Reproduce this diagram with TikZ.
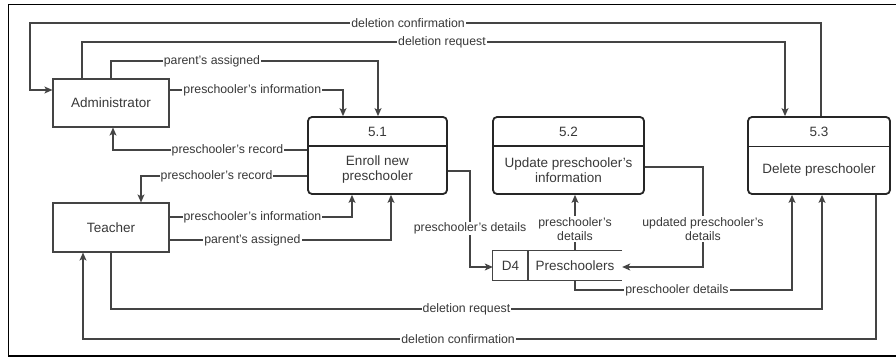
\documentclass[tikz,border=0pt]{standalone}
\usepackage{fontspec}
\setmainfont{Liberation Sans}
\usetikzlibrary{arrows.meta}
\definecolor{txt}{HTML}{383838}
\definecolor{ln}{HTML}{444444}
\tikzset{
  entity/.style={draw=ln, line width=1.2pt, minimum width=116pt, minimum height=48pt, inner sep=0pt, text=txt, font=\fontsize{13.5}{15}\selectfont},
  proc/.style={draw=black!85, line width=1.8pt, rounded corners=4pt, minimum width=#1, minimum height=77pt, inner sep=0pt},
  ptext/.style={text=txt, font=\fontsize{13.5}{15}\selectfont, align=center, inner sep=0pt},
  flow/.style={draw=ln, line width=1.1pt, -{Stealth[length=8pt,width=7pt,inset=2pt]}},
  lbl/.style={fill=white, text=txt, font=\fontsize{12.3}{14}\selectfont, inner sep=1pt, align=center}
}
\begin{document}
\begin{tikzpicture}[x=1pt,y=-1pt]
\useasboundingbox (0,0) rectangle (896,358);
% outer frame
\draw[black, line width=1.5pt] (896,4.5) -- (8.5,4.5) -- (8.5,356) -- (896,356);

% external entities
\node[entity] (admin) at (111,103) {Administrator};
\node[entity, minimum height=49pt] (teacher) at (111,227.5) {Teacher};

% processes
\node[proc=139pt] (p1) at (377.5,155.5) {};
\node[proc=151pt] (p2) at (568.5,155.5) {};
\node[proc=142pt] (p3) at (819,155.5) {};
\draw[black!85, line width=1.5pt] (p1.west |- 0,146) -- (p1.east |- 0,146);
\draw[black!85, line width=1.5pt] (p2.west |- 0,146) -- (p2.east |- 0,146);
\draw[black!85, line width=1.5pt] (p3.west |- 0,146.5) -- (p3.east |- 0,146.5);
\node[ptext] (n1) at (377.5,132) {5.1};
\node[ptext] (t1) at (377.5,170) {Enroll new\\preschooler};
\node[ptext] (n2) at (568.5,132) {5.2};
\node[ptext] (t2) at (568.5,170) {Update preschooler's\\information};
\node[ptext] (n3) at (819,132) {5.3};
\node[ptext] (t3) at (819,170) {Delete preschooler};

% data store
\node[minimum width=129pt, minimum height=29pt, inner sep=0pt] (d4) at (557.5,265.5) {};
\draw[ln, line width=1.2pt] (d4.north east) -- (d4.north west) -- (d4.south west) -- (d4.south east);
\draw[ln, line width=1.2pt] (528,251) -- (528,280);
\node[ptext] (d4id) at (510.5,266) {D4};
\node[ptext] (d4name) at (575,266) {Preschoolers};

% flows
\draw[flow] ([xshift=2pt]p3.north) -- (821,23) -- node[lbl,pos=0.522]{deletion confirmation} (30,23) -- (30,90) -- ([yshift=13pt]admin.west);
\draw[flow] ([xshift=-29pt]admin.north) -- (82,42) -- node[lbl,pos=0.512]{deletion request} (785,42) -- ([xshift=-34pt]p3.north);
\draw[flow] (admin.north) -- (111,61) -- node[lbl,pos=0.378]{parent's assigned} (378,61) -- ([xshift=0.5pt]p1.north);
\draw[flow] ([yshift=13pt]admin.east) -- node[lbl,pos=0.477]{preschooler's information} (343,90) -- ([xshift=-34.5pt]p1.north);
\draw[flow] ([yshift=5.5pt]p1.west) -- node[lbl,pos=0.41]{preschooler's record} (113,150) -- ([xshift=2pt]admin.south);
\draw[flow] ([yshift=-20.5pt]p1.west) -- node[lbl,pos=0.545]{preschooler's record} (141,176) -- ([xshift=30pt]teacher.north);
\draw[flow] ([yshift=10.5pt]teacher.east) -- node[lbl,pos=0.454]{preschooler's information} (352,217) -- ([xshift=-25.5pt]p1.south);
\draw[flow] ([yshift=-12.5pt]teacher.east) -- node[lbl,pos=0.374]{parent's assigned} (391,240) -- ([xshift=13.5pt]p1.south);
\draw[flow] ([yshift=-15.5pt]p1.east) -- (470,171) -- node[lbl,pos=0.6]{preschooler's details} (470,267) -- ([yshift=-1.5pt]d4.west);
\draw[flow] ([xshift=17.5pt]d4.north) -- node[lbl,pos=0.39]{preschooler's\\details} ([xshift=6.5pt]p2.south);
\draw[flow] ([yshift=-11.5pt]p2.east) -- (703,167) -- node[lbl,pos=0.62]{updated preschooler's\\details} (703,267) -- ([yshift=-1.5pt]d4.east);
\draw[flow] ([xshift=17.5pt]d4.south) -- (575,290) -- node[lbl,pos=0.47]{preschooler details} (792,290) -- ([xshift=-27pt]p3.south);
\draw[flow] (teacher.south) -- (111,309) -- node[lbl,pos=0.5]{deletion request} (822,309) -- ([xshift=3pt]p3.south);
\draw[flow] ([xshift=57pt]p3.south) -- (876,339) -- node[lbl,pos=0.527]{deletion confirmation} (83,339) -- ([xshift=-28pt]teacher.south);
\end{tikzpicture}
\end{document}
